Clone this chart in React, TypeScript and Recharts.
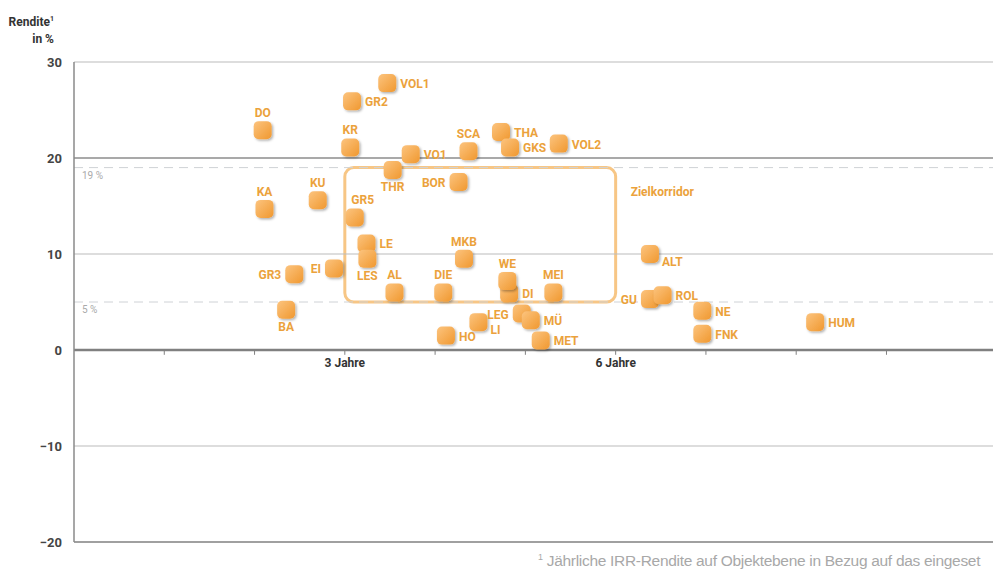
import {
	ReferenceArea,
	ReferenceDot,
	ReferenceLine,
	Scatter,
	ScatterChart,
	XAxis,
	YAxis,
} from "recharts";

// Objekt-Kürzel, Haltedauer (Jahre) und Rendite (%)
const objects = [
	"DO", "KA", "GR3", "BA", "KU", "EI", "KR", "GR2", "VOL1", "GR5", "LE", "LES",
	"THR", "VO1", "AL", "DIE", "HO", "BOR", "MKB", "SCA", "LI", "THA", "GKS", "DI",
	"WE", "LEG", "MÜ", "MET", "MEI", "VOL2", "ALT", "GU", "ROL", "NE", "FNK", "HUM",
];
const holdingYears = [
	2.09, 2.11, 2.44, 2.35, 2.7, 2.88, 3.06, 3.08, 3.47, 3.11, 3.24, 3.25,
	3.53, 3.73, 3.55, 4.09, 4.12, 4.26, 4.32, 4.37, 4.48, 4.73, 4.83, 4.82,
	4.8, 4.96, 5.06, 5.17, 5.31, 5.37, 6.38, 6.38, 6.52, 6.96, 6.96, 8.21,
];
const returns = [
	22.9, 14.7, 7.9, 4.2, 15.6, 8.5, 21.1, 25.9, 27.8, 13.8, 11.1, 9.5,
	18.75, 20.4, 6.0, 6.0, 1.5, 17.5, 9.5, 20.7, 2.9, 22.7, 21.1, 5.9,
	7.2, 3.8, 3.1, 1.0, 6.0, 21.5, 10.0, 5.3, 5.7, 4.1, 1.7, 2.9,
];

const yTicks = [-20, -10, 0, 10, 20, 30];
const yearTicks = [1, 2, 3, 4, 5, 6, 7, 8, 9];
const labelledYears = [3, 6];
const corridorLow = 5;
const corridorHigh = 19;
const corridorYears = [3, 6];

type Side = "top" | "topRight" | "bottom" | "left" | "right" | "rightLow";

// where each label sits relative to its marker
const labelSide: Record<string, Side> = {
	DO: "top", KA: "top", GR3: "left", BA: "bottom", KU: "top", EI: "left",
	KR: "top", GR2: "right", VOL1: "right", GR5: "topRight", LE: "right",
	LES: "bottom", THR: "bottom", VO1: "right", AL: "top", DIE: "top",
	HO: "right", BOR: "left", MKB: "top", SCA: "top", LI: "rightLow",
	THA: "right", GKS: "right", DI: "right", WE: "top", LEG: "left",
	MÜ: "right", MET: "right", MEI: "top", VOL2: "right", ALT: "rightLow",
	GU: "left", ROL: "right", NE: "right", FNK: "right", HUM: "right",
};

const data = objects.map((name, i) => ({ name, x: holdingYears[i], y: returns[i] }));

const ORANGE = "#eba23c";
const FONT = "Roboto, 'DejaVu Sans', sans-serif";

function Marker(props: any) {
	const { cx, cy, payload } = props;
	const side: Side = labelSide[payload.name] ?? "right";
	let tx = cx;
	let ty = cy;
	let anchor: "start" | "middle" | "end" = "middle";
	if (side === "top") ty = cy - 17;
	if (side === "topRight") { ty = cy - 18; tx = cx + 8; }
	if (side === "bottom") ty = cy + 17;
	if (side === "left") { tx = cx - 13; anchor = "end"; ty = cy + 1; }
	if (side === "right") { tx = cx + 13; anchor = "start"; ty = cy + 1; }
	if (side === "rightLow") { tx = cx + 12; anchor = "start"; ty = cy + 8; }
	return (
		<g>
			<rect
				x={cx - 9}
				y={cy - 9}
				width={18}
				height={18}
				rx={5}
				fill="url(#markerFill)"
				filter="url(#markerShadow)"
			/>
			<text
				x={tx}
				y={ty}
				textAnchor={anchor}
				dominantBaseline="central"
				fill={ORANGE}
				fontSize={12}
				fontWeight={700}
				fontFamily={FONT}
			>
				{payload.name}
			</text>
		</g>
	);
}

function PercentLabel(props: any) {
	const { viewBox, value } = props;
	return (
		<text x={viewBox.x + 8} y={viewBox.y + 11} fill="#aaa" fontSize={10} fontFamily={FONT}>
			{value}
		</text>
	);
}

function CorridorLabel(props: any) {
	const { viewBox } = props;
	return (
		<text
			x={viewBox.x + viewBox.width + 15}
			y={viewBox.y + 28}
			fill={ORANGE}
			fontSize={12}
			fontWeight={700}
			fontFamily={FONT}
		>
			Zielkorridor
		</text>
	);
}

export default function App() {
	return (
		<div
			style={{
				position: "absolute",
				left: 0,
				top: 0,
				width: 1002,
				height: 578,
				overflow: "hidden",
				background: "#fff",
				fontFamily: FONT,
			}}
		>
			<div
				style={{
					position: "absolute",
					right: 1002 - 54,
					top: 11,
					textAlign: "right",
					fontSize: 12,
					fontWeight: 700,
					color: "#333",
					lineHeight: "17px",
					whiteSpace: "nowrap",
				}}
			>
				Rendite<sup style={{ fontSize: 7 }}>1</sup>
				<br />
				in %
			</div>
			<ScatterChart
				width={1002}
				height={578}
				margin={{ top: 62, right: 9, bottom: 36, left: 0 }}
			>
				<defs>
					<linearGradient id="markerFill" x1="0" y1="0" x2="1" y2="1">
						<stop offset="0%" stopColor="#fcc47f" />
						<stop offset="100%" stopColor="#f0982f" />
					</linearGradient>
					<filter id="markerShadow" x="-30%" y="-30%" width="170%" height="170%">
						<feDropShadow dx={1.5} dy={1.5} stdDeviation={1.2} floodColor="#000" floodOpacity={0.3} />
					</filter>
				</defs>
				<XAxis type="number" dataKey="x" domain={[0, 10.18]} ticks={yearTicks} hide />
				<YAxis
					type="number"
					dataKey="y"
					domain={[-20, 30]}
					ticks={yTicks}
					width={74}
					tickLine={false}
					tickSize={0}
					tickMargin={12}
					axisLine={{ stroke: "#8a8a8a", strokeWidth: 1.5 }}
					tick={{ fontSize: 13, fontWeight: 700, fill: "#444", fontFamily: FONT }}
					tickFormatter={(v: number) => (v < 0 ? `\u2212${Math.abs(v)}` : `${v}`)}
				/>
				{yTicks.map((t) => (
					<ReferenceLine
						key={`g${t}`}
						y={t}
						stroke={t === 0 || t === -20 ? "#808080" : t === 20 ? "#8c8c8c" : "#bcbcbc"}
						strokeWidth={t === 0 ? 2.5 : t === -20 || t === 20 ? 1.5 : 1.2}
					/>
				))}
				<ReferenceLine
					y={corridorHigh}
					stroke="#cfd2d6"
					strokeDasharray="9 6"
					label={<PercentLabel value="19 %" />}
				/>
				<ReferenceLine
					y={corridorLow}
					stroke="#cfd2d6"
					strokeDasharray="9 6"
					label={<PercentLabel value="5 %" />}
				/>
				{yearTicks.map((t) => (
					<ReferenceLine
						key={`t${t}`}
						segment={[{ x: t, y: 0 }, { x: t, y: -0.5 }]}
						stroke="#808080"
						strokeWidth={1}
					/>
				))}
				{labelledYears.map((t) => (
					<ReferenceDot
						key={`l${t}`}
						x={t}
						y={0}
						r={0}
						fill="none"
						stroke="none"
						label={{
							value: `${t} Jahre`,
							position: "bottom",
							offset: 8,
							fill: "#333",
							fontSize: 12,
							fontWeight: 700,
							fontFamily: FONT,
						}}
					/>
				))}
				<ReferenceArea
					x1={corridorYears[0]}
					x2={corridorYears[1]}
					y1={corridorLow}
					y2={corridorHigh}
					shape={(p: any) => (
						<rect
							x={p.x}
							y={p.y}
							width={p.width}
							height={p.height}
							rx={9}
							fill="none"
							stroke="#f7c685"
							strokeWidth={3}
						/>
					)}
					label={<CorridorLabel />}
				/>
				<Scatter data={data} shape={<Marker />} isAnimationActive={false} />
			</ScatterChart>
			<div
				style={{
					position: "absolute",
					left: 538,
					top: 552,
					fontSize: 15.5,
					color: "#a8a8a8",
					fontFamily: "'Liberation Sans', Arial, sans-serif",
					letterSpacing: -0.3,
					whiteSpace: "nowrap",
				}}
			>
				<sup style={{ fontSize: 9 }}>1</sup> Jährliche IRR-Rendite auf Objektebene in Bezug auf das eingeset
			</div>
		</div>
	);
}
